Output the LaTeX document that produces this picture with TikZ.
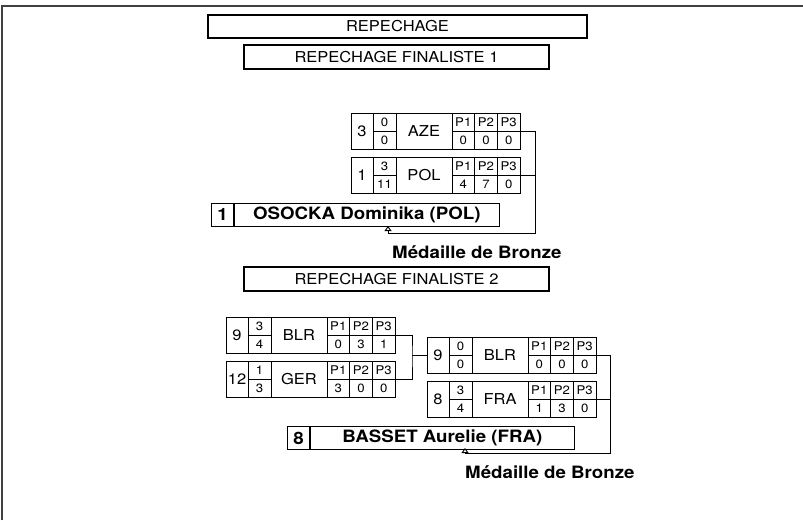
\documentclass[tikz,border=0pt]{standalone}
\usepackage{fontspec}
\setmainfont{TeX Gyre Heros}[FakeStretch=1.1]
\usetikzlibrary{positioning,arrows.meta}

% one row of a pool: seed | score | nation | P1 P2 P3
\newcommand{\matchbox}[9]{%
  \begin{scope}[shift={(#2)}]
    \node[matchframe] (#1) at (0,0) {};
    \draw[cell] (22,0) -- (22,36);
    \draw[cell] (45,0) -- (45,36);
    \draw[cell] (101,0) -- (101,36);
    \draw[cell] (123.67,0) -- (123.67,36);
    \draw[cell] (146.33,0) -- (146.33,36);
    \draw[cell] (22,18) -- (45,18);
    \draw[cell] (101,18) -- (169,18);
    \node[bigtext] (#1-seed) at (11,18) {#3};
    \node[smalltext] (#1-sa) at (33.5,9.5) {#4};
    \node[smalltext] (#1-sb) at (33.5,27.5) {#5};
    \node[bigtext] (#1-nat) at (73,18) {#6};
    \node[smalltext] (#1-ha) at (112.3,9.5) {P1};
    \node[smalltext] (#1-hb) at (135,9.5) {P2};
    \node[smalltext] (#1-hc) at (157.7,9.5) {P3};
    \node[smalltext] (#1-pa) at (112.3,27.5) {#7};
    \node[smalltext] (#1-pb) at (135,27.5) {#8};
    \node[smalltext] (#1-pc) at (157.7,27.5) {#9};
  \end{scope}}

\begin{document}
\begin{tikzpicture}[x=1pt,y=-1pt,
  frameline/.style={draw=black!75,line width=1.5pt},
  headbox/.style={draw,line width=2pt,inner sep=0pt,anchor=north west,
    font=\fontsize{15}{17}\selectfont},
  matchframe/.style={draw,line width=0.9pt,inner sep=0pt,anchor=north west,
    minimum width=169pt,minimum height=36pt},
  cell/.style={line width=0.9pt},
  bigtext/.style={inner sep=0pt,font=\fontsize{15}{17}\selectfont},
  smalltext/.style={inner sep=0pt,font=\fontsize{12}{14}\selectfont},
  namebox/.style={draw,line width=0.9pt,inner sep=0pt,minimum height=23pt,
    font=\bfseries\fontsize{17}{19}\selectfont},
  medal/.style={inner sep=0pt,anchor=west,font=\bfseries\fontsize{17}{19}\selectfont},
  link/.style={line width=0.9pt},
  towin/.style={line width=0.9pt,-{Triangle[open,length=5pt,width=7pt]}}]

\useasboundingbox (0,0) rectangle (803,520);
\draw[frameline] (2,520) -- (2,6) -- (803,6);

% titles
\node[headbox,minimum width=379pt,minimum height=23pt] (rep) at (207,14) {REPECHAGE};
\node[headbox,minimum width=305pt,minimum height=24pt] (fin1) at (243,44) {REPECHAGE FINALISTE 1};
\node[headbox,minimum width=305pt,minimum height=24pt] (fin2) at (243,266) {REPECHAGE FINALISTE 2};

% finaliste 1
\matchbox{aze}{351,113}{3}{0}{0}{AZE}{0}{0}{0}
\matchbox{pol}{351,157}{1}{3}{11}{POL}{4}{7}{0}

\node[namebox,anchor=north west,minimum width=22pt] (osockanum) at (211,203) {1};
\node[namebox,right=0pt of osockanum,minimum width=265pt] (osocka) {OSOCKA Dominika (POL)};

\coordinate (b1) at (535,233);
\coordinate (t1) at (388,226);
\draw[towin] (aze.east) -| (b1) -| (t1);
\draw[link] (pol.east) -- (pol.east -| b1);
\node[medal] (bronze1) at (392,252) {Médaille de Bronze};

% finaliste 2
\matchbox{blr}{226,317}{9}{3}{4}{BLR}{0}{3}{1}
\matchbox{ger}{226,361}{12}{1}{3}{GER}{3}{0}{0}
\matchbox{blrnine}{427,337}{9}{0}{0}{BLR}{0}{0}{0}
\matchbox{fra}{427,381}{8}{3}{4}{FRA}{1}{3}{0}

\coordinate (j2) at ([xshift=-15pt]blrnine.west);
\draw[link] (blr.east) -| (j2) |- (ger.east);
\draw[link] (j2) -- (blrnine.west);

\node[namebox,anchor=north west,minimum width=22pt] (bassetnum) at (287,426) {8};
\node[namebox,right=0pt of bassetnum,minimum width=264pt] (basset) {BASSET Aurelie (FRA)};

\coordinate (b2) at (610,453);
\coordinate (t2) at (465,448);
\draw[towin] (blrnine.east) -| (b2) -| (t2);
\draw[link] (fra.east) -- (fra.east -| b2);
\node[medal] (bronze2) at (465,472) {Médaille de Bronze};
\end{tikzpicture}
\end{document}
